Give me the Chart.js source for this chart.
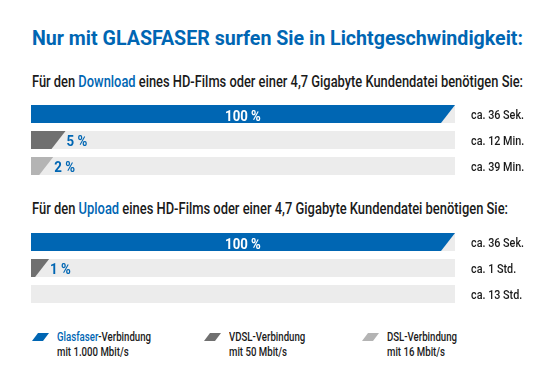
<!DOCTYPE html>
<html>
<head>
<meta charset="utf-8">
<script src="https://cdn.jsdelivr.net/npm/chart.js@4.4.0/dist/chart.umd.min.js"></script>
<style>
  html, body { margin: 0; padding: 0; background: #fff; }
  body {
    width: 553px; height: 384px; position: relative; overflow: hidden;
    font-family: 'Roboto', 'Liberation Sans', sans-serif;
    font-weight: 500;
    color: #1a1a1a;
  }
  .t { position: absolute; white-space: nowrap; transform-origin: 0 0; }
  .blue { color: #0066b3; }
  #title { left: 32px; top: 28px; font-size: 21px; line-height: 21px; font-weight: bold; color: #0066b3; }
  #sub1 { left: 32px; top: 74px; font-size: 16px; line-height: 16px; }
  #sub2 { left: 32px; top: 201px; font-size: 16px; line-height: 16px; }
  .wrap { position: absolute; left: 0; width: 553px; height: 78px; }
  .leg { position: absolute; top: 330px; font-size: 12px; line-height: 14.5px; }
  .leg div { white-space: nowrap; transform-origin: 0 0; }
  .icon { position: absolute; top: 333px; width: 17px; height: 8px;
    clip-path: polygon(6px 0, 17px 0, 11px 100%, 0 100%); }
</style>
</head>
<body>
<div id="title" class="t">Nur mit GLASFASER surfen Sie in Lichtgeschwindigkeit:</div>
<div id="sub1" class="t">Für den <span class="blue">Download</span> eines HD-Films oder einer 4,7 Gigabyte Kundendatei benötigen Sie:</div>
<div class="wrap" style="top:101px"><canvas id="down"></canvas></div>
<div id="sub2" class="t">Für den <span class="blue">Upload</span> eines HD-Films oder einer 4,7 Gigabyte Kundendatei benötigen Sie:</div>
<div class="wrap" style="top:229px"><canvas id="up"></canvas></div>

<div class="icon" style="left:32px;background:#0066b3"></div>
<div class="leg" style="left:57px"><div class="l1"><span class="blue">Glasfaser</span>-Verbindung</div><div>mit 1.000 Mbit/s</div></div>
<div class="icon" style="left:204px;background:#707070"></div>
<div class="leg" style="left:229px"><div>VDSL-Verbindung</div><div>mit 50 Mbit/s</div></div>
<div class="icon" style="left:362px;background:#b4b4b4"></div>
<div class="leg" style="left:387px"><div>DSL-Verbindung</div><div>mit 16 Mbit/s</div></div>

<script>
// data
var connections = ['Glasfaser', 'VDSL', 'DSL'];
var downloadPercent = [100, 5, 2];
var downloadTimes = ['ca. 36 Sek.', 'ca. 12 Min.', 'ca. 39 Min.'];
var uploadPercent = [100, 1, 0];
var uploadTimes = ['ca. 36 Sek.', 'ca. 1 Std.', 'ca. 13 Std.'];

var FONT = "'Roboto', 'Liberation Sans', sans-serif";
var BLUE = '#0066b3';
var barColors = [BLUE, '#707070', '#b4b4b4'];

// squeeze the html text lines to the widths of the original
function fit(el, w) {
  var nat = el.getBoundingClientRect().width;
  el.style.transform = 'scaleX(' + (w / nat) + ')';
  return w / nat;
}
fit(document.getElementById('title'), 491);
fit(document.getElementById('sub1'), 491);
fit(document.getElementById('sub2'), 476);
var legScale = fit(document.querySelector('.leg .l1'), 94);
document.querySelectorAll('.leg div').forEach(function(d) {
  d.style.transform = 'scaleX(' + legScale + ')';
});

// the original uses a condensed face, so text on the canvas is squeezed too
function squeezedText(ctx, txt, x, y, align, sx) {
  ctx.save();
  ctx.translate(x, y);
  ctx.scale(sx, 1);
  ctx.textAlign = align;
  ctx.fillText(txt, 0, 0);
  ctx.restore();
}

// bars with a slanted end, drawn on top of a grey track
var slantBars = {
  id: 'slantBars',
  beforeDatasetsDraw: function(chart, args, opts) {
    var ctx = chart.ctx;
    var area = chart.chartArea;
    var xs = chart.scales.x;
    var meta = chart.getDatasetMeta(0);
    var trackEnd = xs.getPixelForValue(100) + opts.slant;
    var values = chart.data.datasets[0].data;
    ctx.save();
    meta.data.forEach(function(bar, i) {
      var top = bar.y - bar.height / 2;
      var bottom = bar.y + bar.height / 2;
      ctx.fillStyle = opts.trackColor;
      ctx.fillRect(area.left, top, trackEnd - area.left, bottom - top);
      if (!values[i]) return;
      ctx.fillStyle = barColors[i];
      ctx.beginPath();
      ctx.moveTo(bar.base, top);
      ctx.lineTo(bar.x + opts.slant, top);
      ctx.lineTo(bar.x, bottom);
      ctx.lineTo(bar.base, bottom);
      ctx.closePath();
      ctx.fill();
    });
    ctx.restore();
  },
  afterDatasetsDraw: function(chart, args, opts) {
    var ctx = chart.ctx;
    var area = chart.chartArea;
    var xs = chart.scales.x;
    var ys = chart.scales.y;
    var meta = chart.getDatasetMeta(0);
    var trackEnd = xs.getPixelForValue(100) + opts.slant;
    var values = chart.data.datasets[0].data;
    ctx.save();
    ctx.textBaseline = 'alphabetic';
    meta.data.forEach(function(bar, i) {
      var v = values[i];
      if (v) {
        var txt = v + ' %';
        if (v >= 100) {
          ctx.font = 'bold 15px ' + FONT;
          ctx.fillStyle = '#fff';
          squeezedText(ctx, txt, (area.left + trackEnd) / 2, bar.y + 7, 'center', 0.88);
        } else {
          ctx.font = 'bold 14px ' + FONT;
          ctx.fillStyle = BLUE;
          squeezedText(ctx, txt, bar.x + opts.slant + 1, bar.y + 6, 'left', 0.95);
        }
      }
      // time label on the right, at the category axis tick
      ctx.font = '500 13px ' + FONT;
      ctx.fillStyle = '#1a1a1a';
      squeezedText(ctx, chart.data.labels[i], area.right + opts.labelGap, ys.getPixelForTick(i) + 5, 'left', 0.83);
    });
    ctx.restore();
  }
};

function makeChart(id, values, times) {
  return new Chart(document.getElementById(id), {
    type: 'bar',
    data: {
      labels: times,
      datasets: [{
        label: 'Anteil',
        data: values,
        backgroundColor: 'rgba(0,0,0,0)',
        barThickness: 18
      }]
    },
    options: {
      indexAxis: 'y',
      responsive: true,
      maintainAspectRatio: false,
      animation: false,
      layout: { padding: { left: 31, right: 112, top: 0, bottom: 0 } },
      plugins: {
        legend: { display: false },
        tooltip: { enabled: false },
        slantBars: { slant: 14, trackColor: '#ececec', labelGap: 30 }
      },
      scales: {
        x: { display: false, min: 0, max: 100 },
        y: { display: false }
      }
    },
    plugins: [slantBars]
  });
}

makeChart('down', downloadPercent, downloadTimes);
makeChart('up', uploadPercent, uploadTimes);
</script>
</body>
</html>
